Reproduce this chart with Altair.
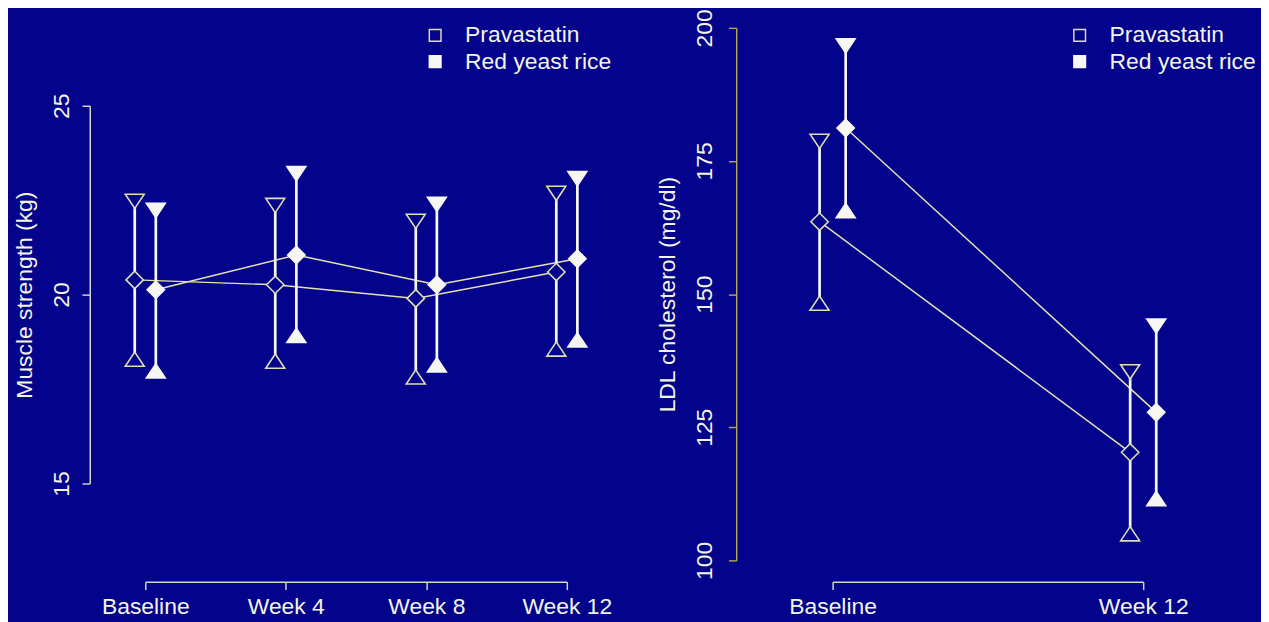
import altair as alt
import pandas as pd

# ---------------- data ----------------
groups = ["Pravastatin", "Red yeast rice"]

ms_timepoints = ["Baseline", "Week 4", "Week 8", "Week 12"]
ms_prava_mean = [20.39, 20.26, 19.90, 20.60]
ms_prava_upper = [22.47, 22.36, 21.94, 22.68]
ms_prava_lower = [18.29, 18.24, 17.82, 18.56]
ms_ryr_mean = [20.13, 21.05, 20.26, 20.95]
ms_ryr_upper = [22.23, 23.20, 22.39, 23.07]
ms_ryr_lower = [17.98, 18.92, 18.14, 18.80]
ms_ticks = [15, 20, 25]

ldl_timepoints = ["Baseline", "Week 12"]
ldl_prava_mean = [163.6, 120.3]
ldl_prava_upper = [178.7, 135.4]
ldl_prava_lower = [148.3, 105.0]
ldl_ryr_mean = [181.2, 127.8]
ldl_ryr_upper = [196.6, 144.0]
ldl_ryr_lower = [165.7, 111.6]
ldl_ticks = [100, 125, 150, 175, 200]

# ---------------- styling ----------------
BG = "#03038B"
TEXT = "#F4F4E2"
AXIS_LIGHT = "#D6D6C8"
AXIS_OLIVE = "#B2A74C"
BAR = "#F6F6F2"
LINK = "#E6E3B2"
PRAVA_STROKE = "#E2DEB4"
FONT = "Liberation Sans"
FS = 23.5

TRI_DOWN = "M-1,-0.75L1,-0.75L0,0.75Z"
TRI_UP = "M-1,0.75L1,0.75L0,-0.75Z"


def make_df(labels, dodge, series):
    rows = []
    for g, sign, (mean, upper, lower) in zip(groups, (-1, 1), series):
        for i, lab in enumerate(labels):
            rows.append({
                "group": g,
                "time": lab,
                "x": i + 1 + sign * dodge,
                "mean": mean[i],
                "upper": upper[i],
                "lower": lower[i],
            })
    return pd.DataFrame(rows)


def panel(df, labels, yticks, ydomain, yrange, width, height, ytitle,
          ycolor, yoffset, ylabpad, legend_x, legend_y):
    label_expr = "[" + ",".join("'%s'" % l for l in labels) + "][datum.value - 1]"
    x = alt.X(
        "x:Q",
        scale=alt.Scale(domain=[1, len(labels)], nice=False, zero=False),
        axis=alt.Axis(
            values=list(range(1, len(labels) + 1)),
            labelExpr=label_expr,
            labelFlush=False,
            labelOverlap=False,
            title=None,
            grid=False,
            offset=22,
            domainColor=AXIS_LIGHT,
            tickColor=AXIS_LIGHT,
            domainWidth=1.5,
            tickWidth=1.5,
            tickSize=8,
            labelPadding=6,
            labelFontSize=FS,
            labelColor=TEXT,
            labelFont=FONT,
        ),
    )
    yscale = alt.Scale(domain=ydomain, range=yrange, nice=False, zero=False)

    def Y(field, with_axis=False):
        if with_axis:
            return alt.Y(
                field + ":Q",
                scale=yscale,
                axis=alt.Axis(
                    values=yticks,
                    title=ytitle,
                    grid=False,
                    offset=yoffset,
                    domainColor=ycolor,
                    tickColor=ycolor,
                    domainWidth=1.5,
                    tickWidth=1.5,
                    tickSize=8,
                    labelAngle=-90,
                    labelAlign="center",
                    labelBaseline="bottom",
                    labelPadding=ylabpad,
                    labelFontSize=FS,
                    labelColor=TEXT,
                    labelFont=FONT,
                    labelFlush=False,
                    labelOverlap=False,
                    titleFontSize=FS,
                    titleFontWeight="normal",
                    titleColor=TEXT,
                    titleFont=FONT,
                    titlePadding=14,
                ),
            )
        return alt.Y(field + ":Q", scale=yscale)

    fill = alt.Fill(
        "group:N",
        scale=alt.Scale(domain=groups, range=[BG, BAR]),
        legend=alt.Legend(
            orient="none",
            legendX=legend_x,
            legendY=legend_y,
            title=None,
            symbolType="square",
            symbolSize=144,
            symbolStrokeColor=PRAVA_STROKE,
            symbolStrokeWidth=1.5,
            labelFontSize=FS,
            labelFont=FONT,
            labelColor=TEXT,
            labelOffset=19,
            rowPadding=2,
            padding=0,
        ),
    )
    stroke = alt.Stroke(
        "group:N",
        scale=alt.Scale(domain=groups, range=[PRAVA_STROKE, BAR]),
        legend=None,
    )

    base = alt.Chart(df)
    link = base.mark_line(color=LINK, strokeWidth=1.5).encode(
        x=x, y=Y("mean", True), detail="group:N"
    )
    bars = base.mark_rule(color=BAR, strokeWidth=2.8).encode(
        x=x, y=Y("lower"), y2="upper:Q"
    )
    up = base.mark_point(shape=TRI_DOWN, size=380, filled=True, strokeWidth=1.6, opacity=1).encode(
        x=x, y=Y("upper"), fill=fill, stroke=stroke
    )
    low = base.mark_point(shape=TRI_UP, size=380, filled=True, strokeWidth=1.6, opacity=1).encode(
        x=x, y=Y("lower"), fill=fill, stroke=stroke
    )
    mid = base.mark_point(shape="diamond", size=320, filled=True, strokeWidth=1.6, opacity=1).encode(
        x=x, y=Y("mean"), fill=fill, stroke=stroke
    )
    return alt.layer(link, bars, up, low, mid).properties(width=width, height=height)


ms_df = make_df(
    ms_timepoints, 0.075,
    [(ms_prava_mean, ms_prava_upper, ms_prava_lower),
     (ms_ryr_mean, ms_ryr_upper, ms_ryr_lower)],
)
ldl_df = make_df(
    ldl_timepoints, 0.042,
    [(ldl_prava_mean, ldl_prava_upper, ldl_prava_lower),
     (ldl_ryr_mean, ldl_ryr_upper, ldl_ryr_lower)],
)

H = 547
left = panel(ms_df, ms_timepoints, ms_ticks, [15, 25], [468, 80], 433, H,
             "Muscle strength (kg)", AXIS_LIGHT, 57, 9, 286, -4)
right = panel(ldl_df, ldl_timepoints, ldl_ticks, [100, 200], [H, 0], 319, H,
              "LDL cholesterol (mg/dl)", AXIS_OLIVE, 99, 12, 242, -4)

chart = (
    alt.hconcat(left, right, spacing=45)
    .resolve_scale(fill="independent", stroke="independent")
    .resolve_legend(fill="independent", stroke="independent")
    .properties(background=BG, padding={"left": 5, "top": -8, "right": 5, "bottom": 0})
    .configure_view(stroke=None)
)

chart.save("out.html", embed_options={"renderer": "svg", "actions": False})
